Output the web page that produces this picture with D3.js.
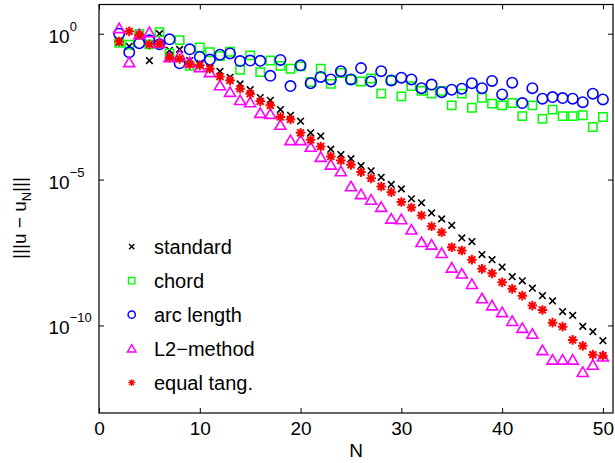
<!DOCTYPE html>
<html lang="en">
<head>
<meta charset="utf-8">
<script src="https://d3js.org/d3.v7.min.js" charset="utf-8"></script>
<style type="text/css">
	body { margin:0; background:#fff; }
	text { font-family: "Liberation Sans", Arial, sans-serif; fill:#000; }
</style>
</head>
<body>
<script type="text/javascript">
	// values (N = number of nodes)
	var N = [2,3,4,5,6,7,8,9,10,11,12,13,14,15,16,17,18,19,20,21,22,23,24,25,26,
		27,28,29,30,31,32,33,34,35,36,37,38,39,40,41,42,43,44,45,46,47,48,49,50];
	var standard = [5.0e-1,3.7e-1,8.1e-1,1.2e-1,1.0,2.7e-1,2.9e-1,1.2e-1,9.6e-2,7.0e-2,5.1e-2,3.2e-2,1.9e-2,1.2e-2,6.5e-3,
		5.2e-3,2.5e-3,1.6e-3,1.0e-3,4.0e-4,3.1e-4,1.1e-4,7.2e-5,5.2e-5,3.0e-5,2.0e-5,1.2e-5,6.8e-6,4.8e-6,2.2e-6,
		1.6e-6,7.2e-7,4.5e-7,2.7e-7,1.0e-7,7.5e-8,2.7e-8,1.8e-8,1.0e-8,4.7e-9,3.4e-9,1.9e-9,1.05e-9,6.9e-10,3.0e-10,
		2.2e-10,9.3e-11,6.1e-11,3.0e-11];
	var chord = [0.49,0.42,0.98,0.43,1.13,0.21,0.60,0.079,0.34,0.23,0.17,0.24,0.058,0.18,0.048,0.12,0.079,0.063,0.076,
		0.022,0.063,0.019,0.045,0.027,0.023,0.029,0.0088,0.025,0.0071,0.016,0.011,0.0088,0.011,0.0035,0.0088,0.0029,
		0.0064,0.0040,0.0035,0.0042,0.0015,0.0035,0.0012,0.0025,0.0015,0.0015,0.0016,0.00063,0.0014];
	var arclength = [1.0,0.23,0.47,0.59,0.43,0.64,0.096,0.29,0.16,0.13,0.19,0.21,0.115,0.12,0.117,0.036,0.126,0.016,0.082,
		0.020,0.033,0.027,0.052,0.027,0.066,0.023,0.052,0.025,0.031,0.027,0.0136,0.018,0.0099,0.012,0.013,0.020,0.0136,
		0.024,0.0083,0.021,0.0042,0.0136,0.0059,0.0067,0.0062,0.0059,0.0045,0.0088,0.0056];
	var l2method = [1.52,0.104,0.95,1.11,0.47,0.154,0.18,0.104,0.070,0.047,0.0168,0.0099,0.0052,0.0044,0.0019,0.00175,
		7.4e-4,2.2e-4,2.2e-4,1.3e-4,5.9e-5,3.2e-5,1.9e-5,5.8e-6,3.1e-6,2.0e-6,1.14e-6,4.5e-7,4.3e-7,1.9e-7,7.1e-8,5.8e-8,
		3.0e-8,9.4e-9,5.9e-9,2.6e-9,8.4e-10,4.8e-10,2.8e-10,1.4e-10,8.1e-11,5.1e-11,1.4e-11,6.6e-12,6.6e-12,6.6e-12,
		2.5e-12,4.4e-12,8.5e-12];
	var equaltang = [0.54,1.2,0.91,0.43,0.45,0.154,0.137,0.089,0.082,0.063,0.034,0.025,0.013,0.0088,0.0048,0.0035,0.0014,
		0.00115,4.0e-4,2.3e-4,1.36e-4,6.2e-5,4.5e-5,3.2e-5,1.8e-5,1.1e-5,5.8e-6,3.7e-6,1.7e-6,1.1e-6,5.9e-7,2.5e-7,
		1.56e-7,4.8e-8,3.7e-8,1.8e-8,8.7e-9,6.1e-9,3.0e-9,1.8e-9,1.05e-9,4.8e-10,3.4e-10,1.25e-10,9.1e-11,3.2e-11,
		2.0e-11,1.0e-11,9.2e-12];
	var seriesNames = ["standard","chord","arc length","L2\u2212method","equal tang."];
	var xTicks = [0,10,20,30,40,50];
	var yTicks = [1e0,1e-5,1e-10];
	var yTickExp = ["0","\u22125","\u221210"];

	var W = 615, H = 463;
	var axLeft = 99, axRight = 613, axTop = 4.5, axBottom = 413;

	var svg = d3.select('body').append('svg')
		.attr('width', W)
		.attr('height', H);

	var x = d3.scaleLinear().domain([0,51]).range([axLeft,axRight]);
	var y = d3.scaleLog().domain([1e-13,1e1]).range([axBottom,axTop]);

	// markers, drawn as paths around 0,0
	function xMark(s) { return "M"+(-s)+","+(-s)+"L"+s+","+s+"M"+(-s)+","+s+"L"+s+","+(-s); }
	function starMark(s) {
		var d = s*0.72;
		return "M"+(-s)+",0L"+s+",0M0,"+(-s)+"L0,"+s+
			"M"+(-d)+","+(-d)+"L"+d+","+d+"M"+(-d)+","+d+"L"+d+","+(-d);
	}
	function squareMark(s) { return "M"+(-s)+","+(-s)+"H"+s+"V"+s+"H"+(-s)+"Z"; }
	function triMark(s) { return "M0,"+(-s*1.05)+"L"+(s*1.1)+","+(s*0.85)+"L"+(-s*1.1)+","+(s*0.85)+"Z"; }
	function circleMark(s) { return "M"+s+",0A"+s+","+s+" 0 1,1 "+(-s)+",0A"+s+","+s+" 0 1,1 "+s+",0Z"; }

	var series = [
		{name:seriesNames[0], vals:standard, color:"#000000", path:xMark, size:3.3, lsize:2.6, sw:1.6, lsw:1.4},
		{name:seriesNames[1], vals:chord, color:"#00ff00", path:squareMark, size:4.2, lsize:3.2, sw:1.5, lsw:1.4},
		{name:seriesNames[2], vals:arclength, color:"#0000ff", path:circleMark, size:5.2, lsize:3.6, sw:1.6, lsw:1.5},
		{name:seriesNames[3], vals:l2method, color:"#ff00ff", path:triMark, size:5.0, lsize:3.8, sw:1.6, lsw:1.5},
		{name:seriesNames[4], vals:equaltang, color:"#ff0000", path:starMark, size:4.8, lsize:3.4, sw:2.0, lsw:1.3}
	];

	var plot = svg.append('g');
	series.forEach(function(s) {
		plot.append('g').selectAll('path')
			.data(N)
			.enter()
			.append('path')
			.attr('transform', function(d,i){ return "translate("+x(d)+","+y(s.vals[i])+")"; })
			.attr('d', s.path(s.size))
			.style('fill','none')
			.style('stroke', s.color)
			.style('stroke-width', s.sw);
	});

	// axes box
	svg.append('rect')
		.attr('x', axLeft).attr('y', axTop)
		.attr('width', axRight-axLeft).attr('height', axBottom-axTop)
		.style('fill','none').style('stroke','#000').style('stroke-width',1.2);

	var xAxis = svg.append('g')
		.attr('transform','translate(0,'+axBottom+')')
		.call(d3.axisBottom(x).tickValues(xTicks).tickSizeInner(-5).tickSizeOuter(0).tickPadding(9));
	xAxis.select('.domain').remove();
	xAxis.selectAll('text').style('font-size','19px').style('font-family','"Liberation Sans", Arial, sans-serif');

	var xTop = svg.append('g')
		.attr('transform','translate(0,'+axTop+')')
		.call(d3.axisTop(x).tickValues(xTicks).tickSizeInner(-5).tickSizeOuter(0).tickFormat(""));
	xTop.select('.domain').remove();

	var yAxis = svg.append('g')
		.attr('transform','translate('+axLeft+',0)')
		.call(d3.axisLeft(y).tickValues(yTicks).tickSizeInner(-5).tickSizeOuter(0).tickFormat(""));
	yAxis.select('.domain').remove();
	var yRight = svg.append('g')
		.attr('transform','translate('+axRight+',0)')
		.call(d3.axisRight(y).tickValues(yTicks).tickSizeInner(-5).tickSizeOuter(0).tickFormat(""));
	yRight.select('.domain').remove();

	//y tick labels 10^k
	yTicks.forEach(function(t,i) {
		var lab = svg.append('text')
			.attr('x', 48.5)
			.attr('y', y(t)+9)
			.style('font-size','19px');
		lab.append('tspan').text("10");
		lab.append('tspan')
			.attr('dy', -12)
			.style('font-size','13px')
			.text(yTickExp[i]);
	});

	// axis labels
	svg.append('text')
		.attr('x', (axLeft+axRight)/2)
		.attr('y', 457)
		.attr('text-anchor','middle')
		.style('font-size','19px')
		.text('N');

	var ylab = svg.append('text')
		.attr('transform','translate(26,218) rotate(-90)')
		.attr('text-anchor','middle')
		.style('font-size','19px');
	ylab.append('tspan').text('|||u \u2212 u');
	ylab.append('tspan').attr('dy',5).style('font-size','13px').text('N');
	ylab.append('tspan').attr('dy',-5).text('|||');

	// legend (no box)
	var legend = svg.append('g');
	series.forEach(function(s,i) {
		var cy = 246.7 + i*34;
		legend.append('path')
			.attr('transform','translate(131.7,'+cy+')')
			.attr('d', s.path(s.lsize))
			.style('fill','none')
			.style('stroke', s.color)
			.style('stroke-width', s.lsw);
		legend.append('text')
			.attr('x', 154)
			.attr('y', cy+7.5)
			.style('font-size','20px')
			.text(s.name);
	});
</script>
</body>
</html>
